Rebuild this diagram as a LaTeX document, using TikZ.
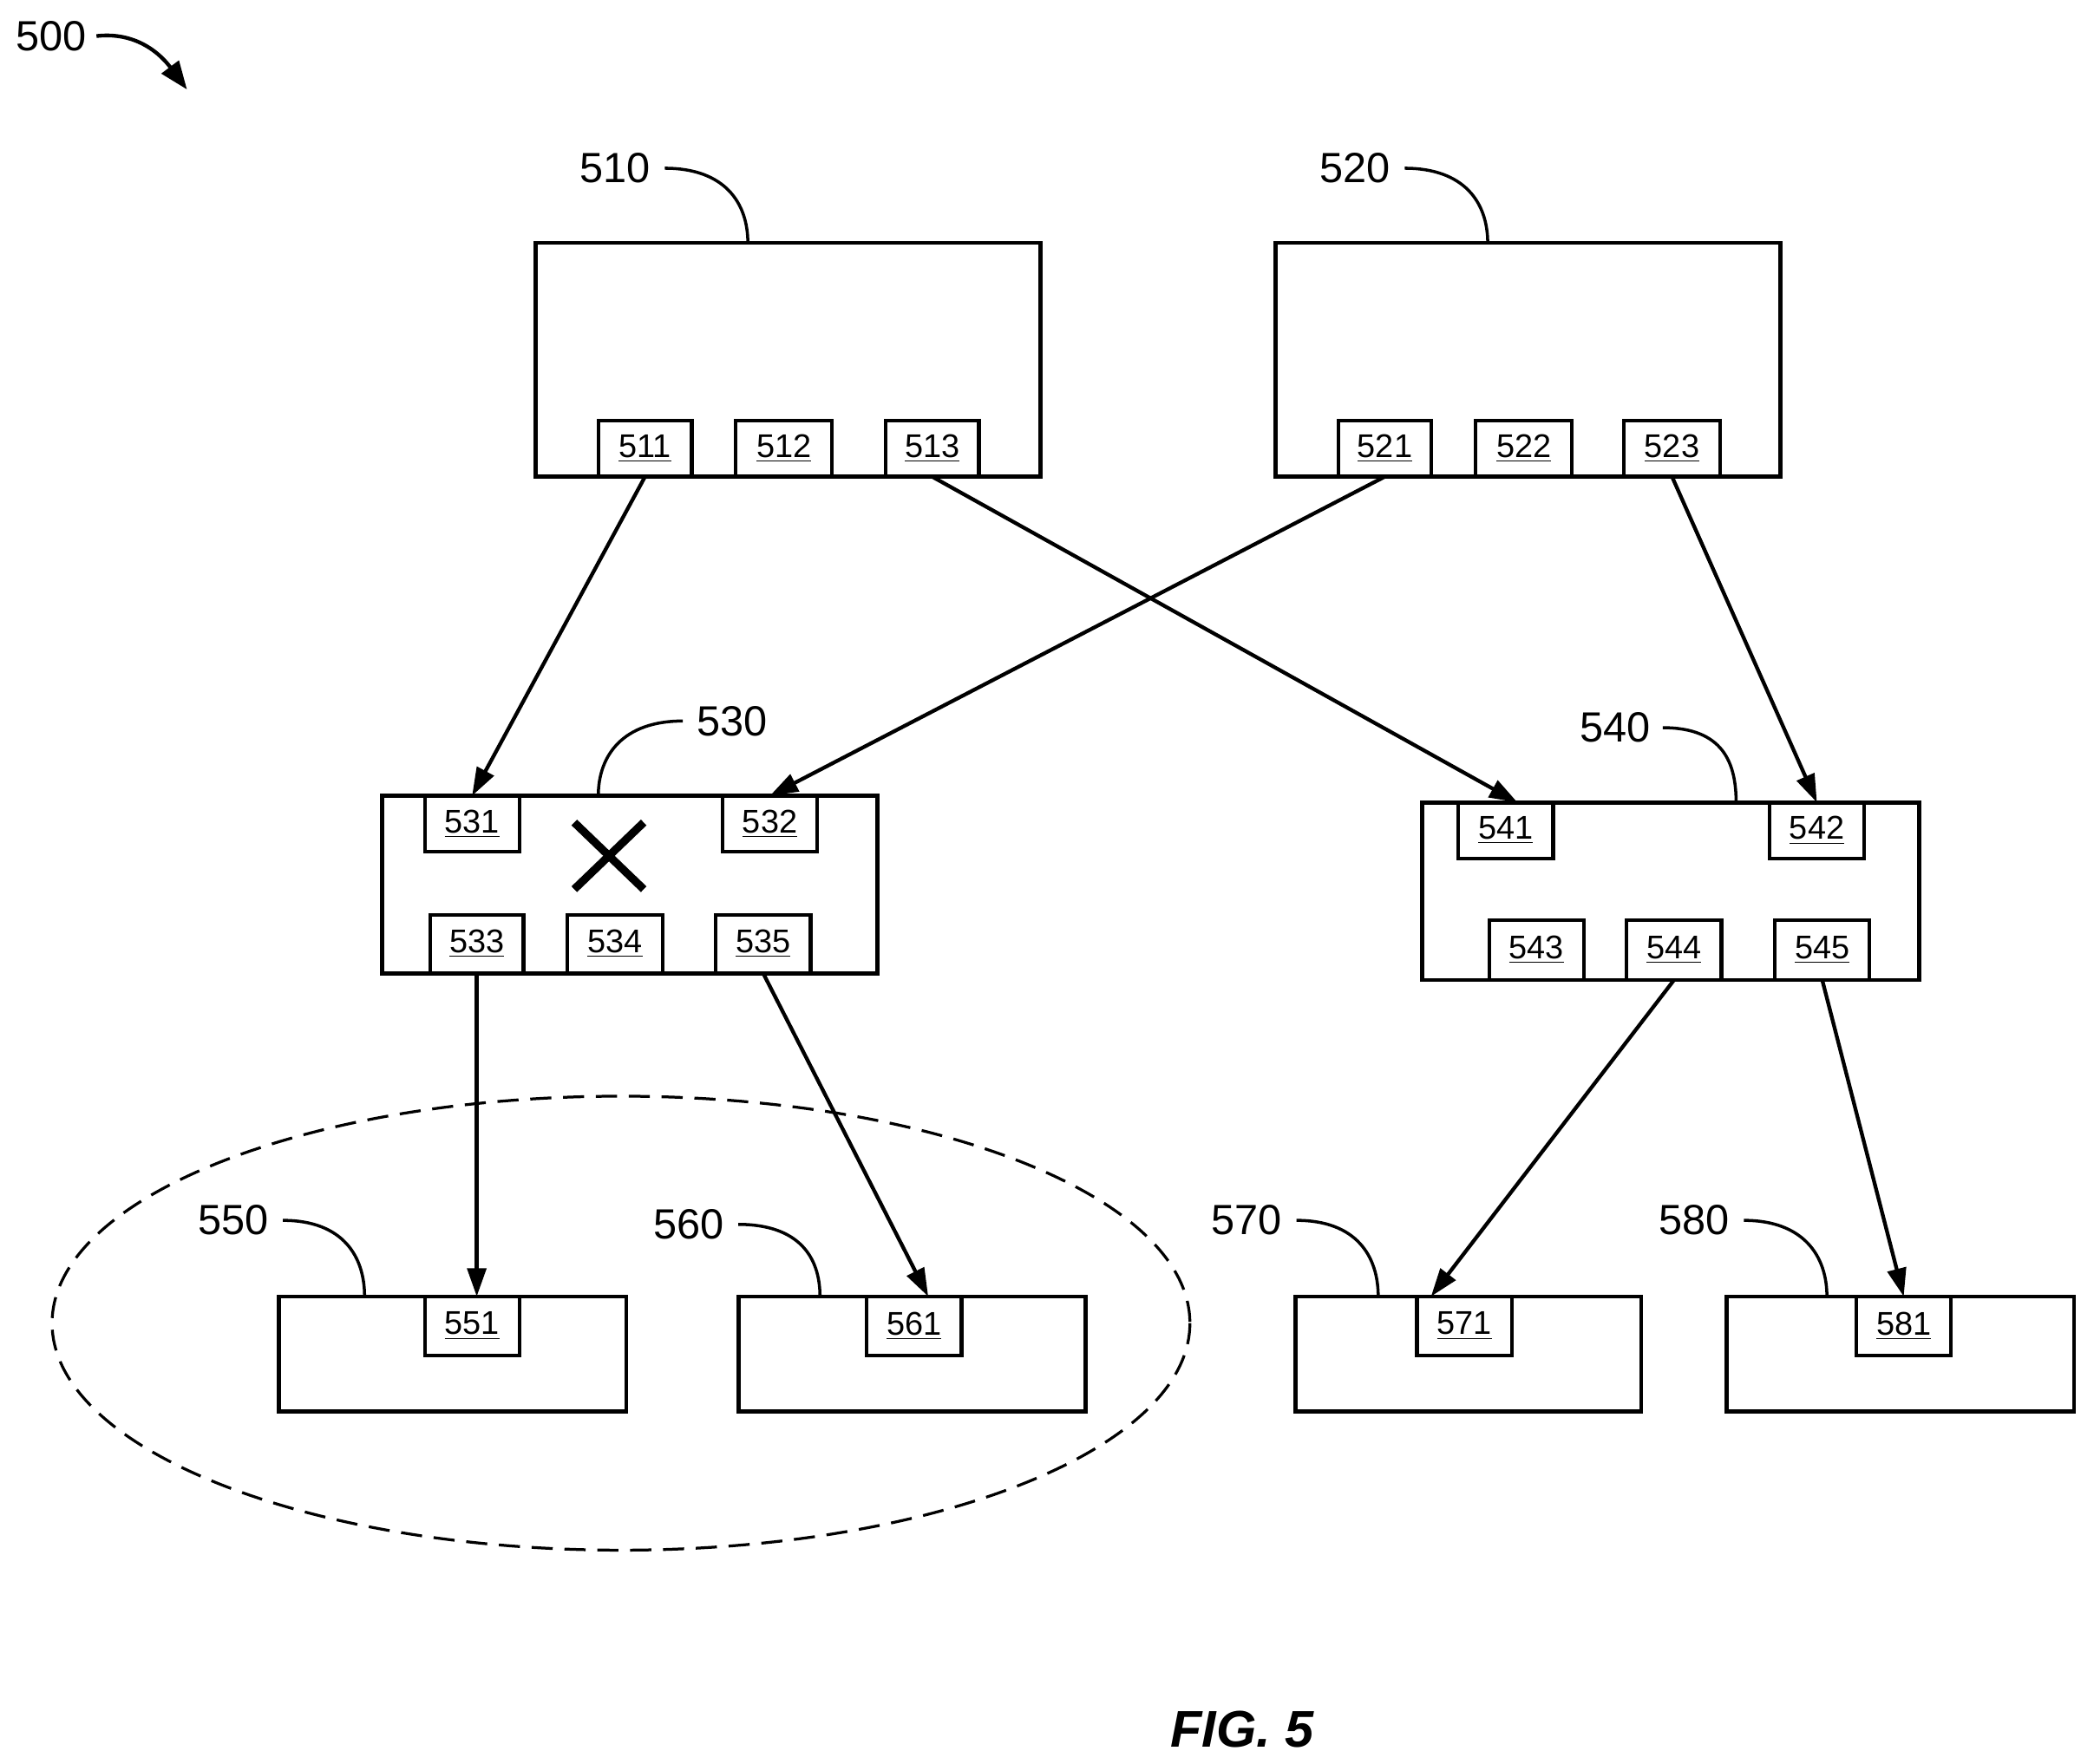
\documentclass[tikz,border=0pt]{standalone}
\usepackage{fontspec}
\setmainfont{Liberation Sans}
\usetikzlibrary{arrows.meta}
\newcommand\mybox[7]{\node[#6, minimum width={(#4-#2)*0.02cm}, minimum height={(#5-#3)*0.02cm}] (#1) at ({(#2+#4)/2},{(#3+#5)/2}) {#7};}
\begin{document}
\begin{tikzpicture}[x=0.02cm,y=-0.02cm,
 big/.style={draw,line width=1.7pt,inner sep=0,outer sep=0},
 sub/.style={draw,line width=1.5pt,inner sep=0,outer sep=0,font=\fontsize{14}{16}\selectfont},
 lab/.style={font=\fontsize{18}{20}\selectfont,inner sep=1pt},
 lead/.style={line width=1.3pt},
 arr/.style={line width=1.6pt,-{Triangle[length=12pt,width=8pt]}}]
\useasboundingbox (0,0) rectangle (1568,1321);
\mybox{b510}{401}{182}{779}{357}{big}{}
\mybox{b511}{448}{315}{518}{357}{sub}{\underline{511}}
\mybox{b512}{551}{315}{623}{357}{sub}{\underline{512}}
\mybox{b513}{663}{315}{733}{357}{sub}{\underline{513}}
\mybox{b520}{955}{182}{1333}{357}{big}{}
\mybox{b521}{1002}{315}{1072}{357}{sub}{\underline{521}}
\mybox{b522}{1105}{315}{1177}{357}{sub}{\underline{522}}
\mybox{b523}{1216}{315}{1288}{357}{sub}{\underline{523}}
\mybox{b530}{286}{596}{657}{729}{big}{}
\mybox{b531}{318}{596}{389}{638}{sub}{\underline{531}}
\mybox{b532}{541}{596}{612}{638}{sub}{\underline{532}}
\mybox{b533}{322}{685}{392}{729}{sub}{\underline{533}}
\mybox{b534}{425}{685}{496}{729}{sub}{\underline{534}}
\mybox{b535}{536}{685}{607}{729}{sub}{\underline{535}}
\mybox{b540}{1065}{601}{1437}{734}{big}{}
\mybox{b541}{1092}{601}{1163}{643}{sub}{\underline{541}}
\mybox{b542}{1325}{601}{1396}{643}{sub}{\underline{542}}
\mybox{b543}{1115}{689}{1186}{734}{sub}{\underline{543}}
\mybox{b544}{1218}{689}{1289}{734}{sub}{\underline{544}}
\mybox{b545}{1329}{689}{1400}{734}{sub}{\underline{545}}
\mybox{b550}{209}{971}{469}{1057}{big}{}
\mybox{b551}{318}{971}{389}{1015}{sub}{\underline{551}}
\mybox{b560}{553}{971}{813}{1057}{big}{}
\mybox{b561}{649}{971}{720}{1015}{sub}{\underline{561}}
\mybox{b570}{970}{971}{1229}{1057}{big}{}
\mybox{b571}{1061}{971}{1132}{1015}{sub}{\underline{571}}
\mybox{b580}{1293}{971}{1553}{1057}{big}{}
\mybox{b581}{1390}{971}{1461}{1015}{sub}{\underline{581}}
\draw[line width=3.4pt] (430,616) -- (482,666) (430,666) -- (482,616);
\draw[dashed,line width=1.2pt,dash pattern=on 9pt off 5pt] (465,991) ellipse [x radius=426, y radius=170];
% arrows
\draw[arr] (b511.south) -- (b531.north);
\draw[arr] (b513.south) -- ([xshift=5pt]b541.north);
\draw[arr] (b521.south) -- (b532.north);
\draw[arr] (b523.south) -- (b542.north);
\draw[arr] (b533.south) -- (b551.north -| b533.south);
\draw[arr] (b535.south) -- ([xshift=6pt]b561.north);
\draw[arr] (b544.south) -- ([xshift=6pt]b571.north west);
\draw[arr] (b545.south) -- (b581.north);
% labels
\node[lab,anchor=east] (l510) at (489,126) {510};
\draw[lead] ([xshift=5pt]l510.east) .. controls +(45,0) and +(0,-30) .. (560,182);
\node[lab,anchor=east] (l520) at (1043,126) {520};
\draw[lead] ([xshift=5pt]l520.east) .. controls +(45,0) and +(0,-30) .. (1114,182);
\node[lab,anchor=west] (l530) at (520,540) {530};
\draw[lead] ([xshift=-5pt]l530.west) .. controls +(-45,0) and +(0,-30) .. (448,596);
\node[lab,anchor=east] (l540) at (1238,545) {540};
\draw[lead] ([xshift=4pt]l540.east) .. controls +(45,0) and +(0,-30) .. (1300,601);
\node[lab,anchor=east] (l550) at (203,914) {550};
\draw[lead] ([xshift=5pt]l550.east) .. controls +(45,0) and +(0,-30) .. (273,971);
\node[lab,anchor=east] (l560) at (544,917) {560};
\draw[lead] ([xshift=5pt]l560.east) .. controls +(45,0) and +(0,-30) .. (614,971);
\node[lab,anchor=east] (l570) at (962,914) {570};
\draw[lead] ([xshift=5pt]l570.east) .. controls +(45,0) and +(0,-30) .. (1032,971);
\node[lab,anchor=east] (l580) at (1297,914) {580};
\draw[lead] ([xshift=5pt]l580.east) .. controls +(45,0) and +(0,-30) .. (1368,971);
\node[lab,anchor=west] (l500) at (10,27) {500};
\coordinate (e500) at (140,67);
\draw[line width=1.6pt,-{Triangle[length=12pt,width=9pt]}] ([xshift=3pt]l500.east) .. controls +(35,-4) and +(-15,-20) .. (e500);
\node[font=\fontsize{22}{24}\selectfont\bfseries\itshape] (fig) at (930,1295) {FIG. 5};
\end{tikzpicture}
\end{document}
